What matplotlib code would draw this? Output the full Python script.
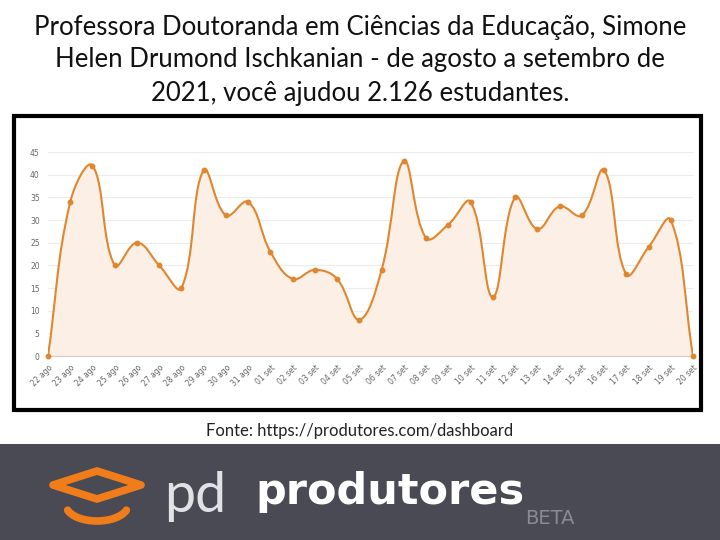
import numpy as np
import matplotlib.pyplot as plt
from matplotlib.path import Path
from matplotlib.patches import PathPatch, Rectangle, Polygon, Arc

#%% dados
dias = ['22 ago', '23 ago', '24 ago', '25 ago', '26 ago', '27 ago', '28 ago', '29 ago',
        '30 ago', '31 ago', '01 set', '02 set', '03 set', '04 set', '05 set', '06 set',
        '07 set', '08 set', '09 set', '10 set', '11 set', '12 set', '13 set', '14 set',
        '15 set', '16 set', '17 set', '18 set', '19 set', '20 set']
estudantes = [0, 34, 42, 20, 25, 20, 15, 41, 31, 34, 23, 17, 19, 17, 8, 19,
              43, 26, 29, 34, 13, 35, 28, 33, 31, 41, 18, 24, 30, 0]
yticks = [0, 5, 10, 15, 20, 25, 30, 35, 40, 45]

laranja = '#e0862e'
pessego = '#fcefe5'

fig = plt.figure(figsize=(7.2, 5.4), dpi=100)
fig.patch.set_facecolor('white')

#%% titulo
titulo = ['Professora Doutoranda em Ciências da Educação, Simone',
          'Helen Drumond Ischkanian - de agosto a setembro de',
          '2021, você ajudou 2.126 estudantes.']
for i, linha in enumerate(titulo):
    fig.text(0.5, 1 - (27 + 33 * i) / 540, linha, ha='center', va='center',
             fontsize=18.5, family='Lato', color='#111111')

# moldura preta
fig.patches.append(Rectangle((14 / 720, 1 - 410 / 540), 687 / 720, 294 / 540,
                             transform=fig.transFigure, fill=False,
                             edgecolor='black', linewidth=3, zorder=0))

#%% grafico
ax = fig.add_axes([48 / 720, 1 - 356 / 540, 645 / 720, 204 / 540])
x = np.arange(len(dias))
y = np.array(estudantes, dtype=float)
ax.set_xlim(0, len(dias) - 1)
ax.set_ylim(0, 45)

# curva bezier como no Chart.js (tensao 0.4), distancias em pixels
pts = ax.transData.transform(np.column_stack([x, y]))
t = 0.4
cp_prev, cp_next = [], []
for i in range(len(pts)):
    a = pts[max(i - 1, 0)]
    b = pts[i]
    c = pts[min(i + 1, len(pts) - 1)]
    d01 = np.hypot(*(b - a))
    d12 = np.hypot(*(c - b))
    s01 = d01 / (d01 + d12) if d01 + d12 else 0
    s12 = d12 / (d01 + d12) if d01 + d12 else 0
    cp_prev.append(b - t * s01 * (c - a))
    cp_next.append(b + t * s12 * (c - a))
inv = ax.transData.inverted()
verts = [pts[0]]
codes = [Path.MOVETO]
for i in range(1, len(pts)):
    verts += [cp_next[i - 1], cp_prev[i], pts[i]]
    codes += [Path.CURVE4] * 3
verts = inv.transform(np.array(verts))
linha_path = Path(verts, codes)
fill_verts = np.vstack([verts, [[x[-1], 0], [x[0], 0], verts[0]]])
fill_codes = codes + [Path.LINETO, Path.LINETO, Path.CLOSEPOLY]
ax.add_patch(PathPatch(Path(fill_verts, fill_codes), facecolor=pessego,
                       edgecolor='none', zorder=1))
ax.add_patch(PathPatch(linha_path, facecolor='none', edgecolor=laranja,
                       linewidth=1.5, zorder=2))
ax.plot(x, y, 'o', color=laranja, markersize=3.2, zorder=3, clip_on=False)

ax.set_yticks(yticks)
ax.set_xticks(x)
ax.set_xticklabels(dias, rotation=45, ha='right', rotation_mode='anchor')
ax.tick_params(axis='both', length=0, labelsize=5.5, labelcolor='#666666')
ax.tick_params(axis='x', pad=5)
ax.tick_params(axis='y', pad=6)
ax.grid(axis='y', color='#ececec', linewidth=0.8)
ax.set_axisbelow(True)
for s in ['top', 'right', 'left']:
    ax.spines[s].set_visible(False)
ax.spines['bottom'].set_color('#cccccc')
ax.spines['bottom'].set_linewidth(0.8)

fig.text(0.5, 1 - 431 / 540, 'Fonte: https://produtores.com/dashboard',
         ha='center', va='center', fontsize=12, family='Lato', color='#222222')

#%% faixa com logo
lg = fig.add_axes([0, 0, 1, 96 / 540])
lg.set_xlim(0, 720)
lg.set_ylim(540, 444)
lg.set_facecolor('#4a4a55')
lg.set_xticks([])
lg.set_yticks([])
for s in lg.spines.values():
    s.set_visible(False)
# chapeu (losango) e sorriso
lg.add_patch(Polygon([[53, 485], [97, 471], [141, 485], [97, 499]], closed=True,
                     fill=False, edgecolor='#f07d1a', linewidth=5.5, joinstyle='round'))
lg.add_patch(Arc((97, 505), 62, 32, theta1=10, theta2=170, color='#f07d1a',
                 linewidth=5.5, capstyle='round'))
lg.text(164, 497, 'pd', fontsize=40, family='Lato', fontweight='normal',
        color='#e2e2e6', va='center', ha='left')
lg.text(255, 492, 'produtores', fontsize=31, family='DejaVu Sans', fontweight='bold',
        color='white', va='center', ha='left')
lg.text(575, 518, 'BETA', fontsize=14, family='DejaVu Sans', color='#8a8a96',
        va='center', ha='right')

fig.savefig('out.png', dpi=100)
